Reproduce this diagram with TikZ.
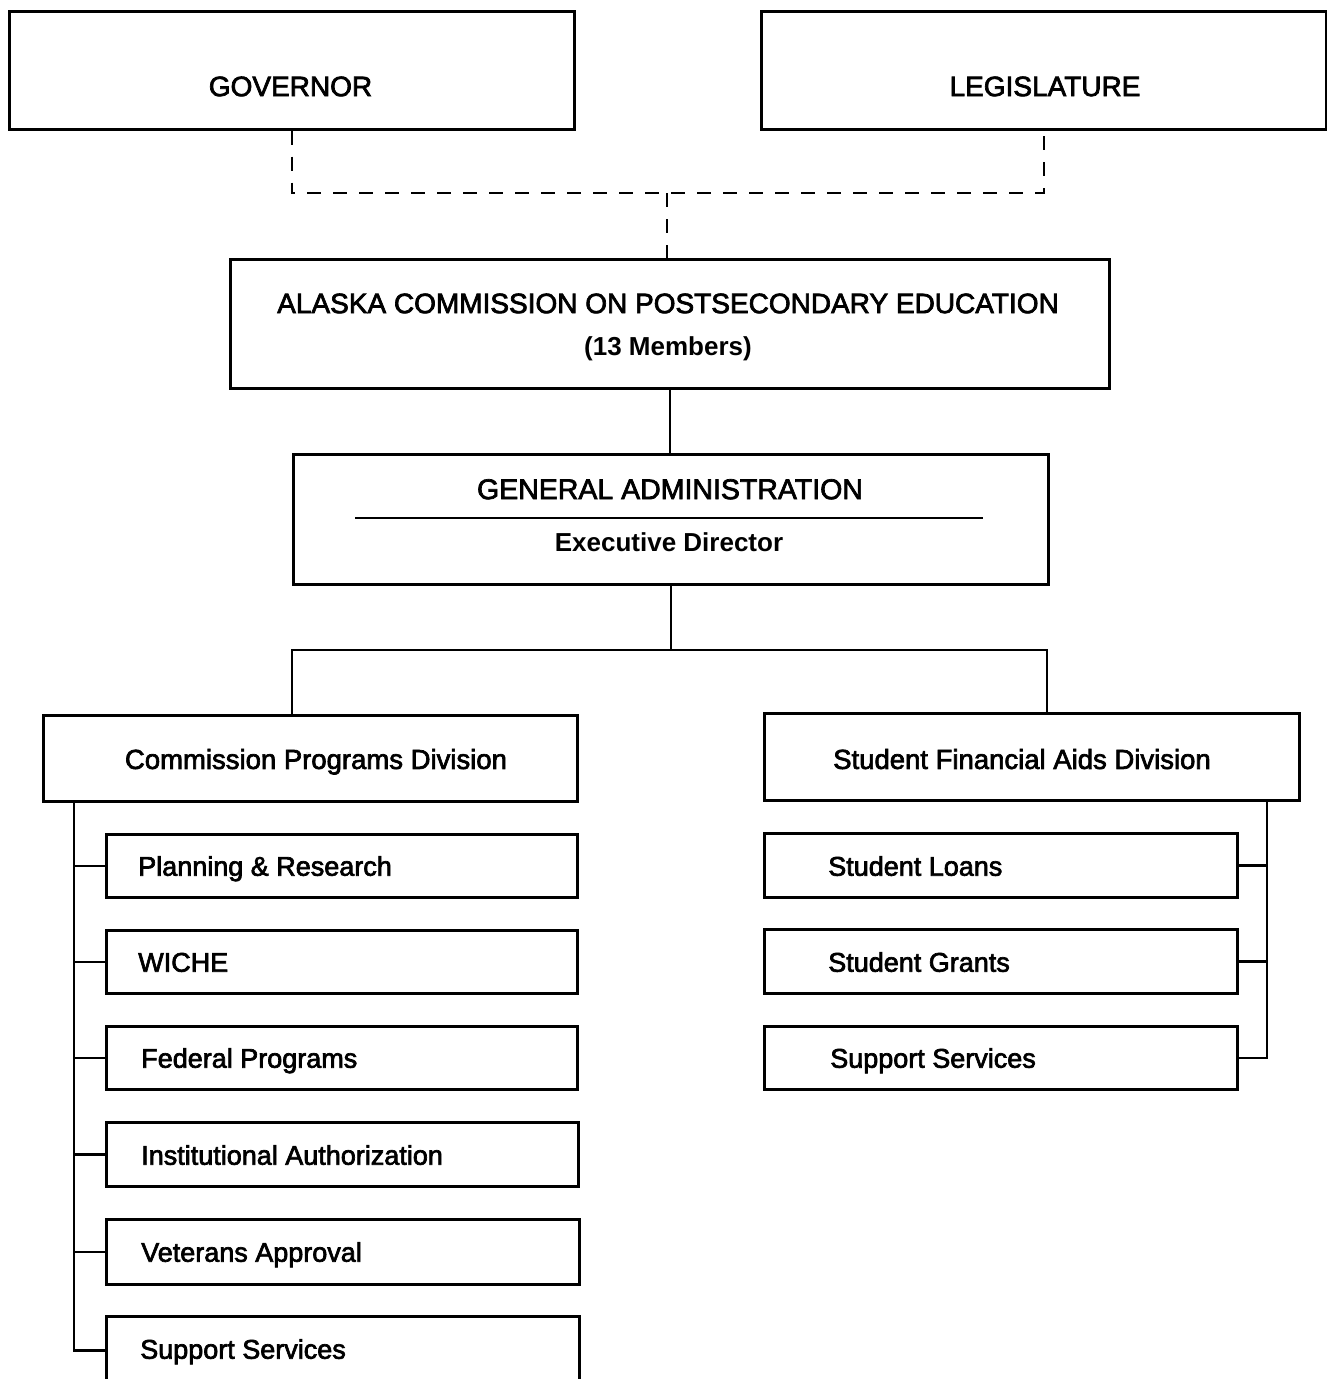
\documentclass[tikz,border=0pt]{standalone}
\usepackage{fontspec}
\setmainfont{Liberation Sans}
\newfontfamily\medfont{Liberation Sans}[FakeBold=2.5]
\begin{document}
\begin{tikzpicture}[x=1pt,y=-1pt,
  line width=2.5pt,
  box/.style={draw, rectangle, inner sep=0pt, anchor=north west},
  capstxt/.style={font=\medfont\fontsize{28}{32}\selectfont, inner sep=0pt, text height=20.2pt, text depth=0pt},
  boldtxt/.style={font=\fontsize{26}{30}\selectfont\bfseries, inner sep=0pt, text height=18.7pt, text depth=0pt},
  divtxt/.style={font=\medfont\fontsize{27.5}{32}\selectfont, inner sep=0pt, text height=19.8pt, text depth=0pt},
  itemtxt/.style={font=\medfont\fontsize{27}{32}\selectfont, inner sep=0pt, anchor=west, text height=19.4pt, text depth=0pt},
  dashline/.style={dash pattern=on 14pt off 12pt, line width=2.5pt}]
\useasboundingbox (0,0) rectangle (1327,1379);

% top boxes
\node[box, minimum width=565, minimum height=118] (gov) at (8,10) {};
\node[capstxt] (govt) at (290.5,86) {GOVERNOR};
\node[box, minimum width=565, minimum height=118] (leg) at (760,10) {};
\node[capstxt] (legt) at (1045,86) {LEGISLATURE};

% commission
\node[box, minimum width=879, minimum height=129] (acpe) at (229,258) {};
\node[capstxt] (acpet) at (668,303) {ALASKA COMMISSION ON POSTSECONDARY EDUCATION};
\node[boldtxt] (acpem) at (668,346) {(13 Members)};

% general administration
\node[box, minimum width=755, minimum height=130] (ga) at (292,453) {};
\node[capstxt, font=\medfont\fontsize{28.5}{32}\selectfont] (gat) at (670,489) {GENERAL ADMINISTRATION};
\node[boldtxt] (gad) at (669,542) {Executive Director};
\coordinate (ruleL) at (355,518);
\coordinate (ruleR) at (983,518);
\draw[line width=1.8pt] (ruleL) -- (ruleR);

% divisions
\node[box, minimum width=534, minimum height=86] (cpd) at (42,714) {};
\node[divtxt] (cpdt) at (316,759) {Commission Programs Division};
\node[box, minimum width=535, minimum height=87] (sfad) at (763,712) {};
\node[divtxt] (sfadt) at (1022,759) {Student Financial Aids Division};

% left children
\node[box, minimum width=471, minimum height=63] (c1) at (105,833) {};
\node[itemtxt] (c1t) at (137,866) {Planning \& Research};
\node[box, minimum width=471, minimum height=63] (c2) at (105,929) {};
\node[itemtxt] (c2t) at (137,962) {WICHE};
\node[box, minimum width=471, minimum height=63] (c3) at (105,1025) {};
\node[itemtxt] (c3t) at (140,1058) {Federal Programs};
\node[box, minimum width=472, minimum height=64] (c4) at (105,1121) {};
\node[itemtxt] (c4t) at (140,1155) {Institutional Authorization};
\node[box, minimum width=473, minimum height=65] (c5) at (105,1218) {};
\node[itemtxt] (c5t) at (140,1252) {Veterans Approval};
\node[box, minimum width=473, minimum height=68] (c6) at (105,1315) {};
\node[itemtxt] (c6t) at (139,1349) {Support Services};

% right children
\node[box, minimum width=473, minimum height=64] (r1) at (763,832) {};
\node[itemtxt] (r1t) at (827,866) {Student Loans};
\node[box, minimum width=473, minimum height=64] (r2) at (763,928) {};
\node[itemtxt] (r2t) at (827,962) {Student Grants};
\node[box, minimum width=473, minimum height=63] (r3) at (763,1025) {};
\node[itemtxt] (r3t) at (829,1058) {Support Services};

% dashed connectors
\coordinate (dj) at (667,193);
\draw[dashline] (gov.south) |- (dj) -| (leg.south);
\draw[dashline] (dj) -- (dj |- acpe.north);

% solid connectors
\draw (acpe.south) -- (acpe.south |- ga.north);
\coordinate (busL) at (292,650);
\coordinate (busR) at (1047,650);
\draw (ga.south) -- (ga.south |- busL);
\draw (busL |- cpd.north) -- (busL) -- (busR) -- (busR |- sfad.north);

% left spine
\coordinate (spL) at (74,800);
\draw (cpd.south -| spL) |- (c6.west);
\foreach \c in {c1,c2,c3,c4,c5}{\draw (\c.west -| spL) -- (\c.west);}

% right spine
\coordinate (spR) at (1267,799);
\draw (sfad.south -| spR) |- (r3.east);
\foreach \c in {r1,r2}{\draw (\c.east) -- (\c.east -| spR);}
\end{tikzpicture}
\end{document}
